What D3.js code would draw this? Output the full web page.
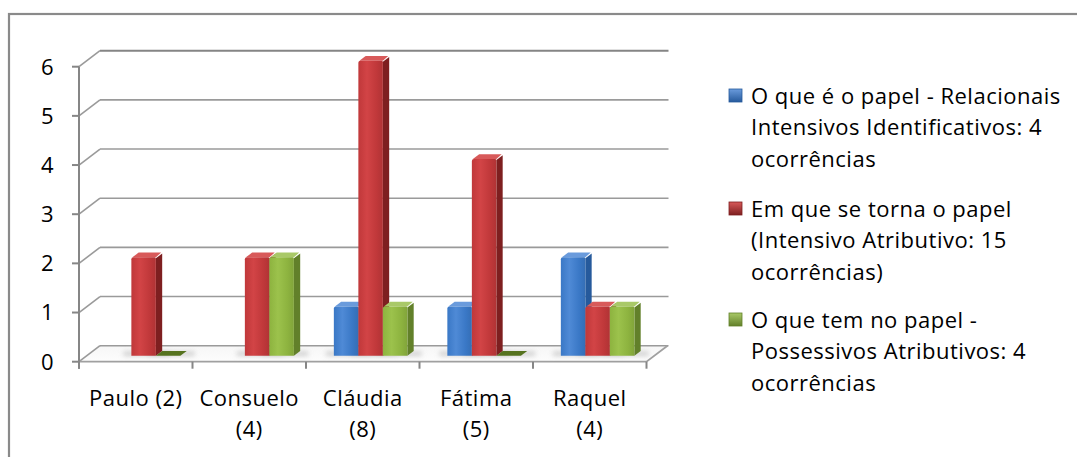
<!DOCTYPE html>
<html>
<head>
<meta charset="utf-8">
<script src="https://cdn.jsdelivr.net/npm/d3@7"></script>
<style>
  body { margin: 0; background: #fff; }
  svg { display: block; }
  text { font-family: "Open Sans", "Liberation Sans", sans-serif; fill: #000; letter-spacing: 0.5px; }
</style>
</head>
<body>
<svg id="chart" width="1077" height="457"></svg>
<script>
// Categories (one label per person, wrapped as displayed)
const categories = ["Paulo (2)", "Consuelo (4)", "Cláudia (8)", "Fátima (5)", "Raquel (4)"];
const categoryLines = [["Paulo (2)"], ["Consuelo", "(4)"], ["Cláudia", "(8)"], ["Fátima", "(5)"], ["Raquel", "(4)"]];

// Series values (null = no entry for that person)
const seriesKeys = ["identificativos", "atributivo", "possessivos"];
const identificativos = [null, null, 1, 1, 2];
const atributivo = [2, 2, 6, 4, 1];
const possessivos = [0, 2, 1, 0, 1];

const seriesLegend = [
  ["O que é o papel - Relacionais", "Intensivos Identificativos: 4", "ocorrências"],
  ["Em que se torna o papel", "(Intensivo Atributivo: 15", "ocorrências)"],
  ["O que tem no papel -", "Possessivos Atributivos: 4", "ocorrências"]
];

const yTicks = [0, 1, 2, 3, 4, 5, 6];

const palette = {
  identificativos: { front: "#3a78c6", light: "#4f8ad6", side: "#265a9c", top: "#6a9bdc", zero: "#24508a" },
  atributivo:      { front: "#c0383a", light: "#d24446", side: "#7e1f20", top: "#d85a5a", zero: "#7a1e1e" },
  possessivos:     { front: "#8db33f", light: "#9cc24c", side: "#62802a", top: "#a9c968", zero: "#56731f" }
};

const values = { identificativos, atributivo, possessivos };

const FONT = 22;

const svg = d3.select("#chart");
const defs = svg.append("defs");

// outer chart-area frame
svg.append("rect")
  .attr("x", 9).attr("y", 14).attr("width", 1200).attr("height", 600)
  .attr("fill", "none").attr("stroke", "#8a8a8a").attr("stroke-width", 2.2);

// 3D projection: depth offset of the plot box
const depth = { dx: 21, dy: -16 };
const x = d3.scaleBand().domain(categories).range([79, 646.5]).paddingInner(0).paddingOuter(0);
const y = d3.scaleLinear().domain([0, 6]).range([361.7, 66.7]);

const groupW = x.bandwidth() * 0.648;
const xs = d3.scaleBand().domain(seriesKeys).range([0, groupW]).paddingInner(0);

// bar slab position in depth (fraction of the full depth)
const barFront = 0.375, barDepth = 0.3;
const bdx0 = depth.dx * barFront, bdy0 = depth.dy * barFront;
const bdx = depth.dx * barDepth, bdy = depth.dy * barDepth;

// floor gradient
const fg = defs.append("linearGradient").attr("id", "floorGrad").attr("x1", 0).attr("y1", 0).attr("x2", 0).attr("y2", 1);
fg.append("stop").attr("offset", 0).attr("stop-color", "#f6f6f6");
fg.append("stop").attr("offset", 1).attr("stop-color", "#fdfdfd");

// shadow blur
defs.append("filter").attr("id", "shadowBlur").attr("x", "-50%").attr("y", "-200%").attr("width", "200%").attr("height", "500%")
  .append("feGaussianBlur").attr("stdDeviation", 2.6);

// front-face gradients per series
seriesKeys.forEach(k => {
  const c = palette[k];
  const g = defs.append("linearGradient").attr("id", "front-" + k).attr("x1", 0).attr("y1", 0).attr("x2", 1).attr("y2", 0);
  g.append("stop").attr("offset", 0).attr("stop-color", c.front);
  g.append("stop").attr("offset", 0.35).attr("stop-color", c.light);
  g.append("stop").attr("offset", 0.75).attr("stop-color", c.front);
  g.append("stop").attr("offset", 1).attr("stop-color", d3.color(c.front).darker(0.25));
});

const y0 = y(0);
const xL = x.range()[0], xR = x.range()[1];

// floor
svg.append("path")
  .attr("d", `M${xL},${y0} L${xR},${y0} L${xR + depth.dx},${y0 + depth.dy} L${xL + depth.dx},${y0 + depth.dy} Z`)
  .attr("fill", "url(#floorGrad)");

const grid = svg.append("g").attr("stroke", "#8f8f8f").attr("fill", "none");
// back wall gridlines and side wall diagonals
yTicks.forEach(t => {
  grid.append("line")
    .attr("x1", xL + depth.dx).attr("x2", xR + depth.dx + 1)
    .attr("y1", y(t) + depth.dy).attr("y2", y(t) + depth.dy)
    .attr("stroke-width", t === 6 ? 2 : 1.6)
    .attr("stroke", t === 6 ? "#858585" : "#9a9a9a");
  grid.append("line")
    .attr("x1", xL).attr("y1", y(t))
    .attr("x2", xL + depth.dx).attr("y2", y(t) + depth.dy)
    .attr("stroke-width", 1.6).attr("stroke", "#9a9a9a");
});

// floor front and right edges
grid.append("path")
  .attr("d", `M${xL},${y0} L${xR},${y0} L${xR + depth.dx},${y0 + depth.dy}`)
  .attr("stroke-width", 1.8).attr("stroke", "#a0a0a0");

// value axis line + ticks
const axis = svg.append("g").attr("stroke", "#868686").attr("stroke-width", 2);
axis.append("line").attr("x1", xL).attr("x2", xL).attr("y1", y(6)).attr("y2", y0 + 7);
yTicks.forEach(t => {
  axis.append("line").attr("x1", xL - 7).attr("x2", xL).attr("y1", y(t)).attr("y2", y(t));
});
// category ticks
categories.forEach(c => {
  const xx = x(c);
  axis.append("line").attr("x1", xx).attr("x2", xx).attr("y1", y0).attr("y2", y0 + 7);
});
axis.append("line").attr("x1", xR).attr("x2", xR).attr("y1", y0).attr("y2", y0 + 7);

// value labels
svg.append("g").selectAll("text").data(yTicks).join("text")
  .attr("x", 54).attr("y", d => y(d))
  .attr("dy", "0.36em")
  .attr("text-anchor", "end")
  .attr("font-size", FONT)
  .text(d => d);

// category labels
const catG = svg.append("g");
categories.forEach((c, i) => {
  const cx = x(c) + x.bandwidth() / 2;
  const t = catG.append("text")
    .attr("text-anchor", "middle")
    .attr("font-size", FONT)
    .attr("x", cx);
  categoryLines[i].forEach((line, j) => {
    t.append("tspan").attr("x", cx).attr("y", 398 + j * 31).attr("dy", "0.36em").text(line);
  });
});

// bars
const bars = svg.append("g");
const shadows = bars.append("g").attr("filter", "url(#shadowBlur)");
const solids = bars.append("g");

categories.forEach((c, i) => {
  const gx = x(c) + (x.bandwidth() - groupW) / 2 + bdx0;
  seriesKeys.forEach(k => {
    const v = values[k][i];
    if (v === null || v === undefined) return;
    const col = palette[k];
    const x0 = gx + xs(k), x1 = x0 + xs.bandwidth();
    const yb = y(0) + bdy0;
    const yt = y(v) + bdy0;

    // soft floor shadow
    shadows.append("rect")
      .attr("x", x0 - 8).attr("y", yb - 4)
      .attr("width", x1 - x0 + bdx + 16).attr("height", 4)
      .attr("fill", "#9c9c9c").attr("opacity", 0.5);

    if (v === 0) {
      solids.append("path")
        .attr("d", `M${x0},${yb} L${x1},${yb} L${x1 + bdx},${yb + bdy} L${x0 + bdx},${yb + bdy} Z`)
        .attr("fill", col.zero);
      return;
    }
    // side face
    solids.append("path")
      .attr("d", `M${x1},${yb} L${x1},${yt + 1} L${x1 + bdx},${yt + bdy + 1} L${x1 + bdx},${yb + bdy} Z`)
      .attr("fill", col.side);
    // top face (slightly rounded bevel)
    solids.append("path")
      .attr("d", `M${x0 + 1},${yt} L${x1},${yt} L${x1 + bdx - 1},${yt + bdy} L${x0 + bdx + 1},${yt + bdy} Z`)
      .attr("fill", col.top);
    // front face
    solids.append("path")
      .attr("d", `M${x0},${yb} L${x0},${yt + 2} Q${x0},${yt} ${x0 + 2},${yt} L${x1 - 1},${yt} Q${x1},${yt} ${x1},${yt + 1.5} L${x1},${yb} Z`)
      .attr("fill", `url(#front-${k})`);
  });
});

// legend
const legend = svg.append("g");
const legendY = [96, 209, 320];
seriesKeys.forEach((k, i) => {
  const col = palette[k];
  const g = legend.append("g");
  const my = legendY[i];
  const mg = defs.append("linearGradient").attr("id", "mk-" + k).attr("x1", 0).attr("y1", 0).attr("x2", 0).attr("y2", 1);
  mg.append("stop").attr("offset", 0).attr("stop-color", col.top);
  mg.append("stop").attr("offset", 1).attr("stop-color", col.side);
  g.append("rect").attr("x", 729).attr("y", my - 7).attr("width", 13).attr("height", 13)
    .attr("fill", `url(#mk-${k})`).attr("stroke", col.side).attr("stroke-width", 0.8);
  const t = g.append("text").attr("font-size", FONT);
  seriesLegend[i].forEach((line, j) => {
    t.append("tspan").attr("x", 751).attr("y", my + j * 31.3).attr("dy", "0.36em").text(line);
  });
});
</script>
</body>
</html>
